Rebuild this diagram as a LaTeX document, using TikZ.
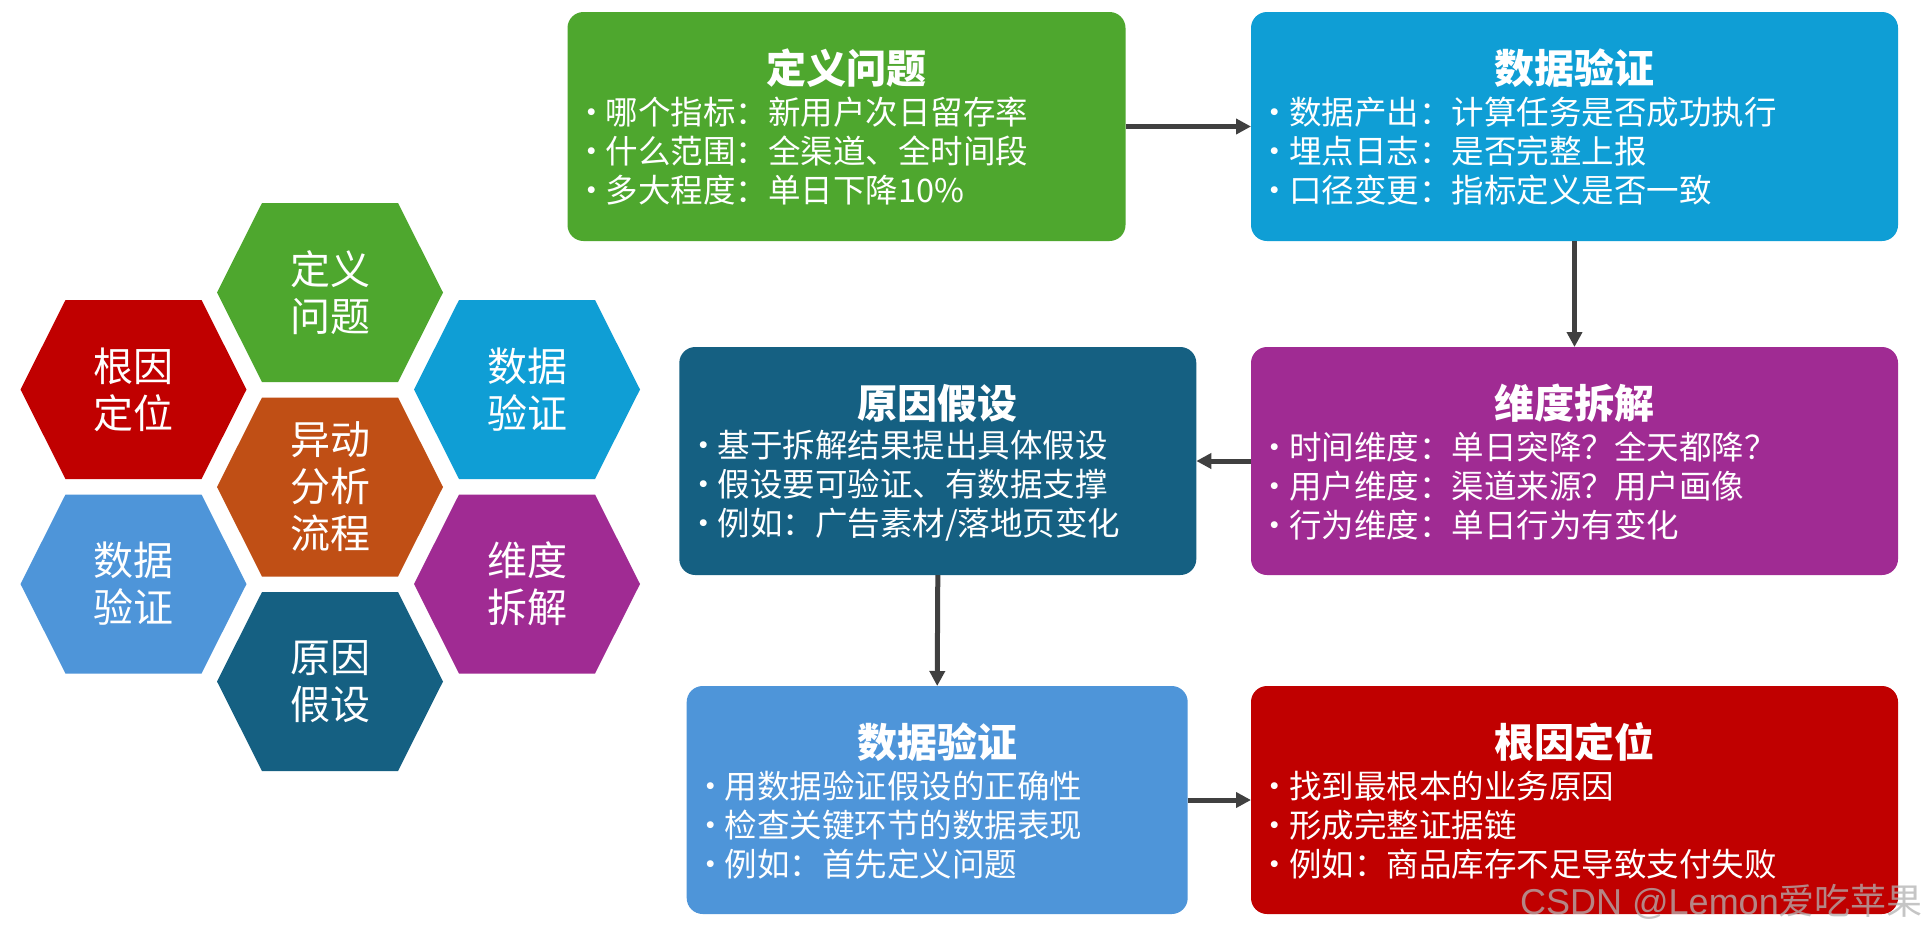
\documentclass[tikz,border=0pt]{standalone}
\usepackage{fontspec}
\setmainfont{Noto Sans CJK SC}
\newfontfamily\wmfont{Liberation Sans}
\usetikzlibrary{arrows.meta,calc}
\definecolor{cgreen}{HTML}{4EA72E}
\definecolor{cblue}{HTML}{0F9ED5}
\definecolor{cpurple}{HTML}{A02B93}
\definecolor{cteal}{HTML}{156082}
\definecolor{corange}{HTML}{C04F15}
\definecolor{clblue}{HTML}{4E95D9}
\definecolor{cred}{HTML}{C00000}
\definecolor{arrowgray}{HTML}{404040}
\newcommand\bu{\makebox[28pt][c]{·}}
\begin{document}
\begin{tikzpicture}[x=1pt,y=-1pt,
  box/.style={rounded corners=16pt, inner sep=0pt, outer sep=0pt},
  ttl/.style={text=white, font=\bfseries\fontsize{40}{44}\selectfont, inner sep=0pt},
  body/.style={text=white, align=left, font=\fontsize{32.5}{39}\selectfont, inner sep=0pt, anchor=west},
  hextext/.style={text=white, align=center, font=\fontsize{40}{47}\selectfont, inner sep=0pt},
  conn/.style={draw=arrowgray, line width=5pt, -{Triangle[length=15pt,width=15pt]}},
  hexagon/.pic={\path[pic actions] (-113,0) -- (-68,-89.5) -- (68,-89.5) -- (113,0) -- (68,89.5) -- (-68,89.5) -- cycle;}
]
\fill[white] (0,0) rectangle (1926,935);
\useasboundingbox (0,0) rectangle (1926,935);

% hexagons
\pic[fill=cgreen]  at (330,292.5) {hexagon};
\pic[fill=corange] at (330,487)   {hexagon};
\pic[fill=cteal]   at (330,681.5) {hexagon};
\pic[fill=cred]    at (133.5,389.5) {hexagon};
\pic[fill=clblue]  at (133.5,584)   {hexagon};
\pic[fill=cblue]   at (527,389.5)   {hexagon};
\pic[fill=cpurple] at (527,584)     {hexagon};

\node[hextext] (hx1) at (330,292.5) {定义\\问题};
\node[hextext] (hx2) at (330,487) {异动\\分析\\流程};
\node[hextext] (hx3) at (330,681.5) {原因\\假设};
\node[hextext] (hx4) at (133.5,389.5) {根因\\定位};
\node[hextext] (hx5) at (133.5,584) {数据\\验证};
\node[hextext] (hx6) at (527,389.5) {数据\\验证};
\node[hextext] (hx7) at (527,584) {维度\\拆解};

% boxes
\node[box, fill=cgreen,  minimum width=558pt, minimum height=229pt] (b1) at (846.5,126.5) {};
\node[box, fill=cblue,   minimum width=647pt, minimum height=229pt] (b2) at (1574.5,126.5) {};
\node[box, fill=cpurple, minimum width=647pt, minimum height=228pt] (b3) at (1574.5,461) {};
\node[box, fill=cteal,   minimum width=517pt, minimum height=228pt] (b4) at (937.8,461) {};
\node[box, fill=clblue,  minimum width=501pt, minimum height=228pt] (b5) at (937.2,800) {};
\node[box, fill=cred,    minimum width=647pt, minimum height=228pt] (b6) at (1574.5,800) {};

% titles
\node[ttl] (t1) at ($(b1.center)+(0,-58)$) {定义问题};
\node[ttl] (t2) at ($(b2.center)+(0,-58)$) {数据验证};
\node[ttl] (t3) at ($(b3.center)+(0,-58)$) {维度拆解};
\node[ttl] (t4) at ($(b4.center)+(0,-58)$) {原因假设};
\node[ttl] (t5) at ($(b5.center)+(0,-58)$) {数据验证};
\node[ttl] (t6) at ($(b6.center)+(0,-58)$) {根因定位};

% bodies
\node[body] (x1) at ($(b1.west)+(10,25)$) {\bu 哪个指标：新用户次日留存率\\\bu 什么范围：全渠道、全时间段\\\bu 多大程度：单日下降10\%};
\node[body] (x2) at ($(b2.west)+(10,25)$) {\bu 数据产出：计算任务是否成功执行\\\bu 埋点日志：是否完整上报\\\bu 口径变更：指标定义是否一致};
\node[body] (x3) at ($(b3.west)+(10,25)$) {\bu 时间维度：单日突降？全天都降？\\\bu 用户维度：渠道来源？用户画像\\\bu 行为维度：单日行为有变化};
\node[body] (x4) at ($(b4.west)+(10,25)$) {\bu 基于拆解结果提出具体假设\\\bu 假设要可验证、有数据支撑\\\bu 例如：广告素材/落地页变化};
\node[body] (x5) at ($(b5.west)+(10,25)$) {\bu 用数据验证假设的正确性\\\bu 检查关键环节的数据表现\\\bu 例如：首先定义问题};
\node[body] (x6) at ($(b6.west)+(10,25)$) {\bu 找到最根本的业务原因\\\bu 形成完整证据链\\\bu 例如：商品库存不足导致支付失败};

% connectors
\draw[conn] (b1.east) -- (b2.west);
\draw[conn] (b2.south) -- (b3.north);
\draw[conn] (b3.west) -- (b4.east);
\draw[conn] (b4.south) -- (b5.north);
\draw[conn] (b5.east) -- (b6.west);

% watermark
\node[anchor=base west, inner sep=0pt, text=gray!60, opacity=0.75, font=\fontsize{36}{42}\selectfont] (wm) at (1520,914) {{\wmfont CSDN @Lemon}爱吃苹果};
\end{tikzpicture}
\end{document}
